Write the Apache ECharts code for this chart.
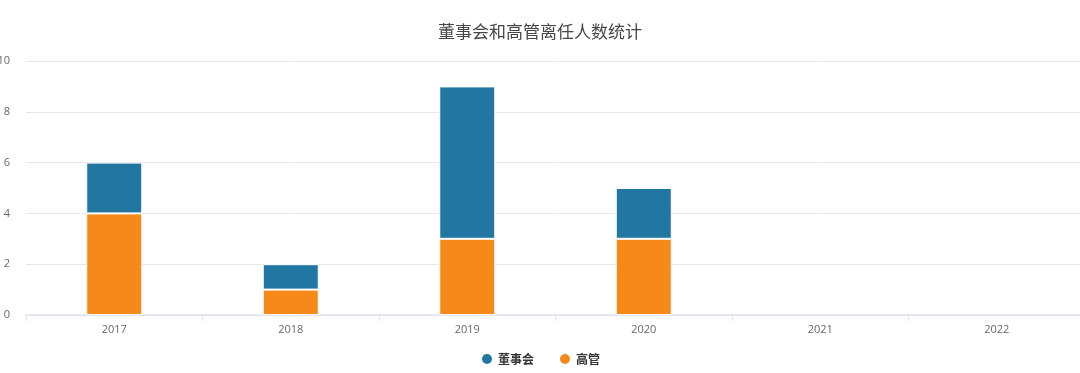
<!DOCTYPE html>
<html><head><meta charset="utf-8">
<script src="https://cdn.jsdelivr.net/npm/echarts@6/dist/echarts.min.js"></script>
<style>html,body{margin:0;padding:0;background:#fff}#c{width:1080px;height:373px}</style>
</head><body><div id="c"></div>
<script>
const categories = ['2017','2018','2019','2020','2021','2022'];
const board = [2, 1, 6, 2, 0, 0];
const exec = [4, 1, 3, 3, 0, 0];
const yTicks = [0, 2, 4, 6, 8, 10];

const nz = arr => arr.map(v => v === 0 ? null : v);
const chart = echarts.init(document.getElementById('c'));
chart.setOption({
  animation: false,
  title: { text: '董事会和高管离任人数统计', left: 'center', top: 18,
    textStyle: { fontSize: 17, fontWeight: 'normal', color: '#464646', fontFamily: 'Noto Sans CJK SC' } },
  legend: { data: ['董事会','高管'], bottom: 2, icon: 'circle', itemWidth: 12, itemHeight: 12, itemGap: 24,
    textStyle: { fontSize: 12, fontWeight: 'bold', color: '#333', fontFamily: 'Noto Sans CJK SC' } },
  grid: { left: 26, right: -5, top: 61, bottom: 58, containLabel: false, outerBoundsMode: 'none' },
  xAxis: { type: 'category', data: categories,
    axisLine: { show: true, lineStyle: { color: '#dfe4f0', width: 1.5 } },
    axisTick: { show: true, length: 6, lineStyle: { color: '#dfe4f0' } },
    axisLabel: { color: '#666', fontSize: 11, margin: 9, fontFamily: 'Open Sans' } },
  yAxis: { type: 'value', min: yTicks[0], max: yTicks[yTicks.length-1], interval: 2,
    axisLabel: { color: '#666', fontSize: 11, margin: 16, fontFamily: 'Open Sans' },
    splitLine: { lineStyle: { color: '#e6e6e6' } } },
  series: [
    { name: '高管', type: 'bar', stack: 'a', data: nz(exec), barWidth: 56,
      itemStyle: { color: '#f5891a', borderColor: '#fff', borderWidth: 1 } },
    { name: '董事会', type: 'bar', stack: 'a', data: nz(board), barWidth: 56,
      itemStyle: { color: '#2276a2', borderColor: '#fff', borderWidth: 1 } }
  ]
});
</script></body></html>
